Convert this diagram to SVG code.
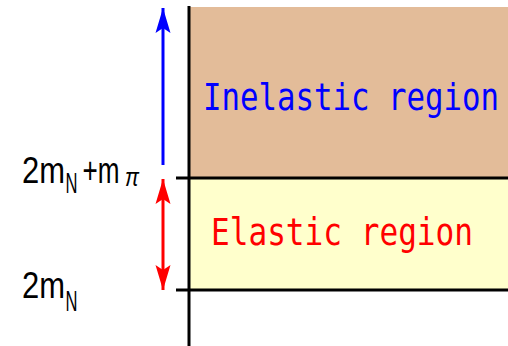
<svg xmlns="http://www.w3.org/2000/svg" width="508" height="346" viewBox="0 0 508 346">
<style>
.lbl{font-family:"Liberation Sans",Arial,sans-serif;fill:#000}
.reg{font-family:"DejaVu Sans Mono","Liberation Mono",monospace;font-size:30.5px}
.ax{stroke:#000;stroke-width:3;fill:none}
</style>
<defs>
<marker id="hb" markerUnits="userSpaceOnUse" markerWidth="30" markerHeight="20" viewBox="-26 -10 30 20" refX="0" refY="0" orient="auto-start-reverse">
<path d="M0,0 L-25,-7.5 L-20,0 L-25,7.5 z" fill="#0000FF"/>
</marker>
<marker id="hr" markerUnits="userSpaceOnUse" markerWidth="30" markerHeight="20" viewBox="-26 -10 30 20" refX="0" refY="0" orient="auto-start-reverse">
<path d="M0,0 L-25,-7.5 L-20,0 L-25,7.5 z" fill="#FF0000"/>
</marker>
</defs>
<rect width="508" height="346" fill="#fff"/>
<g id="inelastic">
<rect x="190" y="7" width="318" height="171" fill="#E3BC99"/>
<text class="reg" transform="translate(203,110) scale(1,1.25)" fill="#0000FF" textLength="296" lengthAdjust="spacingAndGlyphs">Inelastic region</text>
</g>
<g id="elastic">
<rect x="190" y="178" width="318" height="112" fill="#FFFFCC"/>
<text class="reg" transform="translate(211,245) scale(1,1.22)" fill="#FF0000" textLength="262" lengthAdjust="spacingAndGlyphs">Elastic region</text>
</g>
<g id="axis">
<line class="ax" x1="189" y1="6" x2="189" y2="346"/>
<line class="ax" x1="176" y1="178" x2="508" y2="178"/>
<line class="ax" x1="176" y1="290" x2="508" y2="290"/>
</g>
<g id="label-threshold">
<text class="lbl" transform="translate(22,183) scale(1,1.17)" font-size="31" textLength="43" lengthAdjust="spacingAndGlyphs">2m</text>
<text class="lbl" transform="translate(65.5,193) scale(1,1.6)" font-size="18" textLength="12" lengthAdjust="spacingAndGlyphs">N</text>
<text class="lbl" transform="translate(82.5,183) scale(1,1.17)" font-size="31" textLength="37" lengthAdjust="spacingAndGlyphs">+m</text>
<text class="lbl" transform="translate(125,186)" font-size="26" font-style="italic" textLength="14" lengthAdjust="spacingAndGlyphs">π</text>
</g>
<g id="label-2mN">
<text class="lbl" transform="translate(22,298) scale(1,1.17)" font-size="31" textLength="43" lengthAdjust="spacingAndGlyphs">2m</text>
<text class="lbl" transform="translate(65.5,311) scale(1,1.6)" font-size="18" textLength="12" lengthAdjust="spacingAndGlyphs">N</text>
</g>
<g id="connectors">
<line x1="163" y1="165" x2="163" y2="8" stroke="#0000FF" stroke-width="3" marker-end="url(#hb)"/>
<line x1="163" y1="179" x2="163" y2="290" stroke="#FF0000" stroke-width="3" marker-start="url(#hr)" marker-end="url(#hr)"/>
</g>
</svg>
